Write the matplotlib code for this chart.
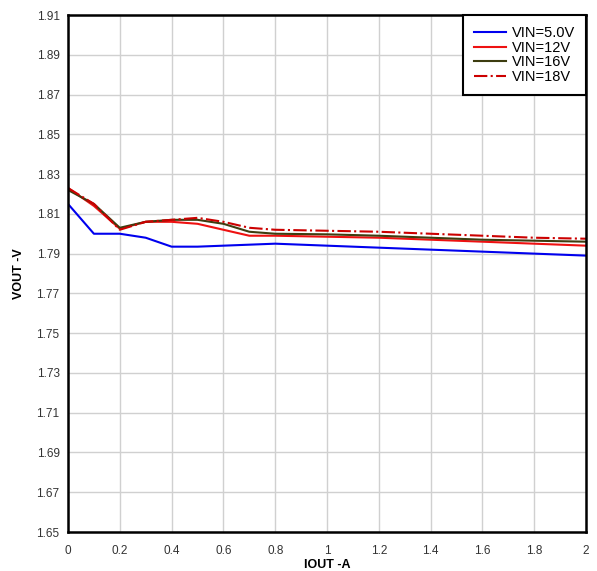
import numpy as np
import matplotlib
matplotlib.use("Agg")
import matplotlib.pyplot as plt

plt.rcParams['font.family'] = ['Liberation Sans', 'DejaVu Sans']

# load current (A)
iout = [0.0, 0.1, 0.2, 0.3, 0.4, 0.5, 0.6, 0.7, 0.8, 1.0, 1.2, 1.4, 1.6, 1.8, 2.0]

# output voltage (V) for each input voltage
vout_5v = [1.815, 1.800, 1.800, 1.798, 1.7935, 1.7935, 1.794, 1.7945, 1.795, 1.794, 1.793, 1.792, 1.791, 1.790, 1.789]
vout_12v = [1.823, 1.814, 1.8025, 1.806, 1.806, 1.805, 1.802, 1.799, 1.799, 1.7985, 1.798, 1.797, 1.796, 1.795, 1.794]
vout_16v = [1.822, 1.815, 1.803, 1.806, 1.807, 1.807, 1.805, 1.801, 1.800, 1.7997, 1.799, 1.798, 1.797, 1.7965, 1.796]
vout_18v = [1.823, 1.815, 1.802, 1.806, 1.807, 1.808, 1.806, 1.803, 1.802, 1.8015, 1.801, 1.800, 1.799, 1.798, 1.7975]

labels = ['VIN=5.0V', 'VIN=12V', 'VIN=16V', 'VIN=18V']

xticks = np.arange(0, 2.01, 0.2)
yticks = np.arange(1.65, 1.9101, 0.02)

fig = plt.figure(figsize=(5.97, 5.71), dpi=100)
ax = fig.add_axes([0.1139, 0.0683, 0.8677, 0.9054])

ax.plot(iout, vout_5v, color='#0000ee', lw=1.5, label=labels[0])
ax.plot(iout, vout_12v, color='#ee1111', lw=1.5, label=labels[1])
ax.plot(iout, vout_16v, color='#3d3d10', lw=1.5, label=labels[2])
ax.plot(iout, vout_18v, color='#cc0000', lw=1.5, ls='-.', label=labels[3])

ax.set_xlim(0, 2)
ax.set_ylim(1.65, 1.91)
ax.set_xticks(xticks)
ax.set_xticklabels(['0', '0.2', '0.4', '0.6', '0.8', '1', '1.2', '1.4', '1.6', '1.8', '2'])
ax.set_yticks(yticks)
ax.set_yticklabels(['%.2f' % v for v in yticks])
ax.tick_params(axis='y', length=0, labelsize=8.5, labelcolor='#333333', pad=6)
ax.tick_params(axis='x', length=0, labelsize=8.5, labelcolor='#333333', pad=9)
ax.grid(True, color='#d0d0d0', lw=1)

for s in ax.spines.values():
    s.set_linewidth(1.8)
    s.set_color('black')

ax.set_xlabel('IOUT -A', fontsize=9, fontweight='bold', labelpad=2)
ax.set_ylabel('VOUT -V', fontsize=9, fontweight='bold', labelpad=8)

leg = ax.legend(loc='upper right', fontsize=10.5, fancybox=False, framealpha=1,
                edgecolor='black', borderaxespad=0, handlelength=2.2,
                labelspacing=0.05, borderpad=0.75, handletextpad=0.4)
leg.get_frame().set_linewidth(1.5)

plt.savefig('out.png', dpi=100)
